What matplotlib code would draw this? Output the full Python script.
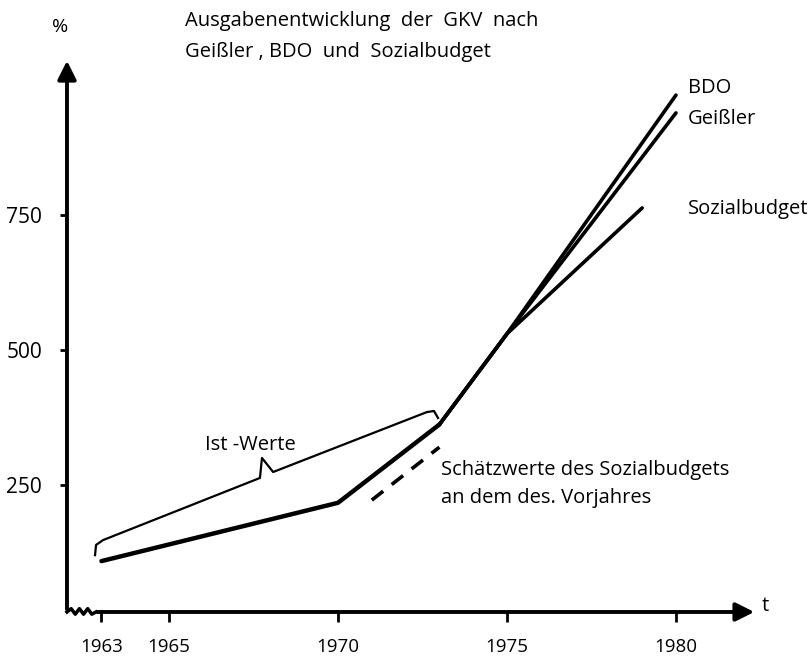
import numpy as np
import matplotlib.pyplot as plt

# Ist-Werte (actual values)
ist_years = [1963, 1970, 1973]
ist_values = [109, 217, 362]

# projections from 1973
proj_years = [1973, 1975, 1980]
bdo = [362, 530, 972]
geissler = [362, 530, 939]
sb_years = [1973, 1975, 1979]
sozialbudget = [362, 530, 763]

# Schaetzwerte des Sozialbudgets (dashed)
est_years = [1971, 1973]
est_values = [222, 320]

# brace over the Ist-Werte
brace_x = [1962.81, 1962.84, 1963.05, 1967.69, 1967.75, 1968.08, 1972.63, 1972.84, 1972.96]
brace_y = [120, 139, 148, 263, 300, 274, 385, 387, 374]

xticks = [1963, 1965, 1970, 1975, 1980]
yticks = [250, 500, 750]

plt.rcParams['font.family'] = ['Open Sans', 'DejaVu Sans']

fig = plt.figure(figsize=(8.09, 6.56), dpi=100)
ax = fig.add_axes([0.0828, 0.0671, 0.853, 0.8445])
ax.set_xlim(1961.98, 1982.4)
ax.set_ylim(14.8, 1040.7)
for s in ax.spines.values():
    s.set_visible(False)

ax.plot(ist_years, ist_values, color='black', lw=3.2, solid_capstyle='round')
ax.plot(proj_years, bdo, color='black', lw=2.6, solid_capstyle='round')
ax.plot(proj_years, geissler, color='black', lw=2.6, solid_capstyle='round')
ax.plot(sb_years, sozialbudget, color='black', lw=2.6, solid_capstyle='round')
ax.plot(est_years, est_values, color='black', lw=2.6, dashes=(4, 3))
ax.plot(brace_x, brace_y, color='black', lw=1.6)

# axes with arrows
ax.annotate('', xy=(0, 1), xytext=(0, 0), xycoords='axes fraction',
            arrowprops=dict(arrowstyle='-|>', lw=2.8, mutation_scale=28, color='black'))
ax.annotate('', xy=(1, 0), xytext=(0.04, 0), xycoords='axes fraction',
            arrowprops=dict(arrowstyle='-|>', lw=2.8, mutation_scale=28, color='black'))
zx = np.linspace(0, 0.042, 8)
zy = np.array([0, 0.006, -0.004, 0.006, -0.004, 0.006, -0.004, 0])
ax.plot(zx, zy, color='black', lw=2.5, transform=ax.transAxes, clip_on=False)

ax.set_xticks(xticks)
ax.set_yticks(yticks)
ax.tick_params(axis='x', direction='out', length=7, width=2, labelsize=13.5, pad=12)
ax.tick_params(axis='y', direction='out', length=5, width=2, labelsize=15, pad=13)

fig.text(60/809, 1 - 27/656, '%', ha='center', va='center', fontsize=14)
fig.text(765/809, 1 - 606/656, 't', ha='center', va='center', fontsize=14.5)
fig.text(185/809, 1 - 21/656, 'Ausgabenentwicklung  der  GKV  nach', ha='left', va='center', fontsize=14.5)
fig.text(185/809, 1 - 52/656, 'Geißler , BDO  und  Sozialbudget', ha='left', va='center', fontsize=14.5)

ax.text(1980.35, 985, 'BDO', ha='left', va='center', fontsize=14.5)
ax.text(1980.35, 928, 'Geißler', ha='left', va='center', fontsize=14.5)
ax.text(1980.35, 761, 'Sozialbudget', ha='left', va='center', fontsize=14.5)
ax.text(1966.05, 324, 'Ist -Werte', ha='left', va='center', fontsize=14.5)
ax.text(1973.05, 278, 'Schätzwerte des Sozialbudgets', ha='left', va='center', fontsize=14.5)
ax.text(1973.05, 226, 'an dem des. Vorjahres', ha='left', va='center', fontsize=14.5)

fig.savefig('out.png', dpi=100)
